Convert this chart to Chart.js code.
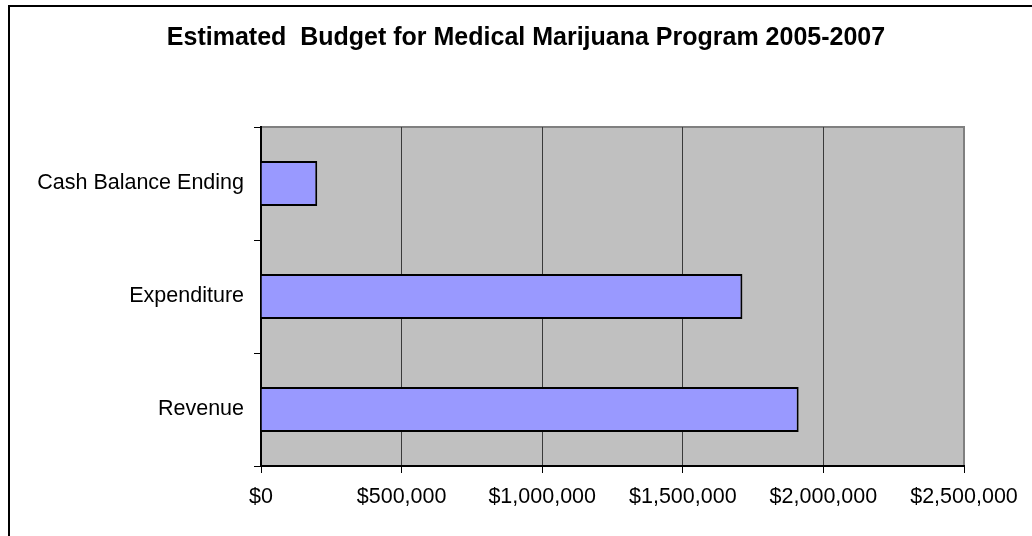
<!DOCTYPE html>
<html>
<head>
<meta charset="utf-8">
<title>Estimated Budget for Medical Marijuana Program 2005-2007</title>
<script src="https://cdn.jsdelivr.net/npm/chart.js@4"></script>
<style>
  html, body { margin: 0; padding: 0; background: #fff; }
  #wrap { width: 1032px; height: 536px; position: relative; }
</style>
</head>
<body>
<div id="wrap"><canvas id="chart" width="1032" height="536"></canvas></div>
<script>
// Budget lines, listed bottom to top as in the source workbook
const categories = ['Revenue', 'Expenditure', 'Cash Balance Ending'];
const budgetValues = [1912000, 1712000, 200000];
// Value axis ticks
const tickValues = [0, 500000, 1000000, 1500000, 2000000, 2500000];

const titleText = 'Estimated  Budget for Medical Marijuana Program 2005-2007';
const FONT = "'Liberation Sans', Arial, sans-serif";

// Page frame, grey plot background and plot border
const plotBackground = {
  id: 'plotBackground',
  beforeDraw(chart) {
    const { ctx, chartArea: a } = chart;
    ctx.save();
    ctx.fillStyle = '#ffffff';
    ctx.fillRect(0, 0, chart.width, chart.height);
    // outer frame (left and top edges)
    ctx.strokeStyle = '#000';
    ctx.lineWidth = 2;
    ctx.beginPath();
    ctx.moveTo(9, chart.height + 2);
    ctx.lineTo(9, 6);
    ctx.lineTo(chart.width + 2, 6);
    ctx.stroke();
    // plot area
    ctx.fillStyle = '#C0C0C0';
    ctx.fillRect(a.left, a.top, a.right - a.left, a.bottom - a.top);
    ctx.strokeStyle = '#808080';
    ctx.lineWidth = 2;
    ctx.beginPath();
    ctx.moveTo(a.left, a.top);
    ctx.lineTo(a.right, a.top);
    ctx.lineTo(a.right, a.bottom);
    ctx.stroke();
    ctx.restore();
  }
};

new Chart(document.getElementById('chart'), {
  type: 'bar',
  data: {
    labels: categories,
    datasets: [{
      data: budgetValues,
      backgroundColor: '#9999FF',
      borderColor: '#000000',
      borderWidth: 2,
      borderSkipped: 'start',
      categoryPercentage: 1.0,
      barPercentage: 0.4
    }]
  },
  options: {
    indexAxis: 'y',
    responsive: false,
    animation: false,
    devicePixelRatio: 1,
    layout: { padding: { left: 20, right: 0, top: 0, bottom: 0 } },
    plugins: {
      legend: { display: false },
      tooltip: { enabled: false },
      title: {
        display: true,
        text: titleText,
        color: '#000',
        font: { family: FONT, size: 25, weight: 'bold', lineHeight: 1.2 },
        padding: { top: 23.6, bottom: 73.4 }
      }
    },
    scales: {
      x: {
        type: 'linear',
        min: 0,
        max: 2500000,
        afterBuildTicks(scale) {
          scale.ticks = tickValues.map(v => ({ value: v }));
        },
        afterFit(scale) {
          scale.height = 70;
          scale.paddingLeft = 0;
          scale.paddingRight = 68;
        },
        grid: {
          display: true,
          drawOnChartArea: true,
          drawTicks: true,
          tickLength: 7,
          lineWidth: 1,
          color: (c) => (c.tick && c.tick.value === 2500000) ? '#808080' : '#3a3a3a',
          tickColor: '#000'
        },
        border: { display: true, color: '#000', width: 2 },
        ticks: {
          color: '#000',
          font: { family: FONT, size: 21.5 },
          padding: 11,
          maxRotation: 0,
          autoSkip: false,
          callback: (v) => '$' + Number(v).toLocaleString('en-US')
        }
      },
      y: {
        type: 'category',
        reverse: true,
        offset: true,
        afterFit(scale) {
          scale.width = 241;
          scale.paddingTop = 0;
          scale.paddingBottom = 0;
        },
        grid: {
          display: true,
          offset: true,
          drawOnChartArea: false,
          drawTicks: true,
          tickLength: 7,
          color: '#000',
          tickColor: '#000'
        },
        border: { display: true, color: '#000', width: 2 },
        ticks: {
          color: '#000',
          font: { family: FONT, size: 21.5 },
          padding: 10
        }
      }
    }
  },
  plugins: [plotBackground]
});
</script>
</body>
</html>
